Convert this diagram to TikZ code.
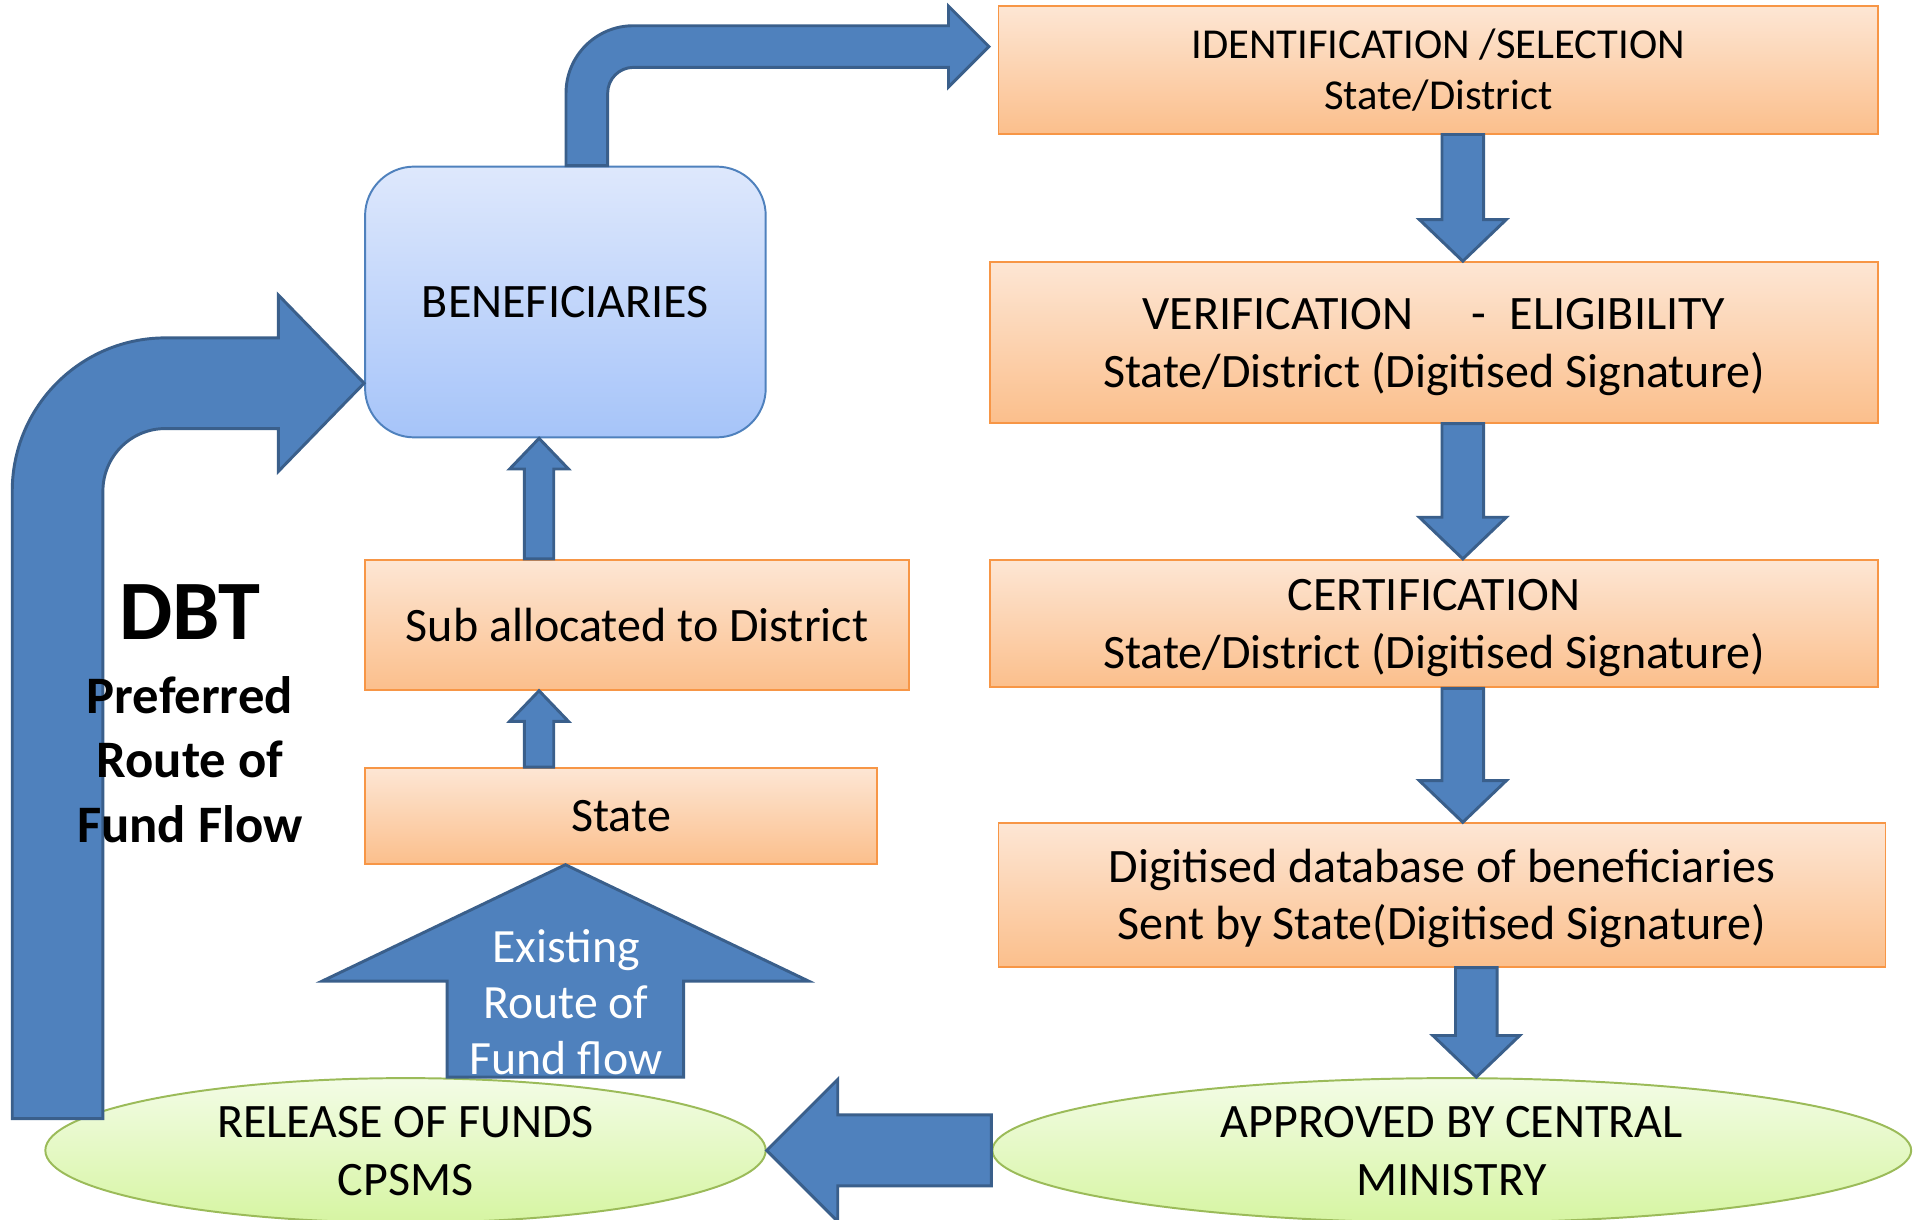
\documentclass[tikz,border=0pt]{standalone}
\usepackage{fontspec}
\setmainfont{Carlito}
\usetikzlibrary{calc,shapes.geometric}

\definecolor{arrowblue}{HTML}{4F81BD}
\definecolor{arrowedge}{HTML}{3A5F8B}
\definecolor{boxedge}{HTML}{F79646}
\definecolor{boxtop}{HTML}{FDE6D4}
\definecolor{boxbot}{HTML}{FBBF8C}
\definecolor{bentop}{HTML}{DEE8FC}
\definecolor{benbot}{HTML}{A6C4F9}
\definecolor{benedge}{HTML}{4F81BD}
\definecolor{ovaltop}{HTML}{F3FCE6}
\definecolor{ovalbot}{HTML}{D6F5A2}
\definecolor{ovaledge}{HTML}{9BBB59}

% struts so that two-line texts sit like the slide's text frames
\newcommand{\linetop}{\rule{0pt}{0.92em}}
\newcommand{\linebot}{\rule[-0.26em]{0pt}{0.26em}}

\begin{document}
\begin{tikzpicture}[x=0.5pt,y=-0.5pt,
  font=\fontsize{19.6}{23.5}\selectfont,
  stage/.style={rectangle,draw=boxedge,line width=0.8pt,top color=boxtop,bottom color=boxbot,align=center,inner sep=2pt},
  oval/.style={ellipse,draw=ovaledge,line width=0.8pt,top color=ovaltop,bottom color=ovalbot,align=center,inner xsep=0pt,inner ysep=-3pt},
  blockarrow/.style={fill=arrowblue,draw=arrowedge,line width=1.2pt,line join=miter}]
   \useasboundingbox (0,0) rectangle (1568,995);

   % boxes
   \node[stage,minimum width=359pt,minimum height=52pt,font=\fontsize{17.4}{21}\selectfont] (ident) at (1174,57) {\linetop IDENTIFICATION /SELECTION\\State/District\linebot};
   \node[stage,minimum width=362.5pt,minimum height=65.5pt] (verif) at (1170.5,279.5) {\linetop VERIFICATION\hspace{1.2em}-\hspace{0.5em}ELIGIBILITY\\State/District (Digitised Signature)\linebot};
   \node[stage,minimum width=362.5pt,minimum height=52pt] (cert) at (1170.5,509) {\linetop CERTIFICATION\\State/District (Digitised Signature)\linebot};
   \node[stage,minimum width=362pt,minimum height=58.5pt] (digi) at (1177,730.5) {\linetop Digitised database of beneficiaries\\Sent by State(Digitised Signature)\linebot};
   \node[stage,minimum width=222pt,minimum height=53pt] (sub) at (520,510) {Sub allocated to District};
   \node[stage,minimum width=209pt,minimum height=39pt] (state) at (507,666) {State};
   \node[draw=benedge,line width=0.8pt,top color=bentop,bottom color=benbot,rounded corners=20pt,
         minimum width=163.5pt,minimum height=110.5pt] (ben) at (461.5,246.5) {BENEFICIARIES};
   \node[oval,minimum width=294pt,minimum height=59pt] (release) at (331,939) {\linetop RELEASE OF FUNDS\\CPSMS\linebot};
   \node[oval,minimum width=375pt,minimum height=59pt] (approved) at (1185,939) {\linetop APPROVED BY CENTRAL\\MINISTRY\linebot};

   % straight block arrows down the right column
   \foreach \from/\to/\dx in {ident/verif/20, verif/cert/23.5, cert/digi/23.5, digi/approved/28}{
     \coordinate (s) at ($(\from.south)+(\dx,0)$);
     \coordinate (t) at (s |- \to.north);
     \draw[blockarrow] ($(s)+(-17,0)$) -- ($(t)+(-17,-34)$) -- ($(t)+(-35.5,-34)$) -- (t)
        -- ($(t)+(35.5,-34)$) -- ($(t)+(17,-34)$) -- ($(s)+(17,0)$) -- cycle;
   }

   % small arrows up to the beneficiaries
   \coordinate (stem) at (440,0);
   \foreach \from/\to in {state/sub, sub/ben}{
     \coordinate (s) at (stem |- \from.north);
     \coordinate (t) at (stem |- \to.south);
     \draw[blockarrow] ($(s)+(-12,0)$) -- ($(t)+(-12,25)$) -- ($(t)+(-24,25)$) -- (t)
        -- ($(t)+(24,25)$) -- ($(t)+(12,25)$) -- ($(s)+(12,0)$) -- cycle;
   }

   % existing route
   \coordinate (s) at (ben.south |- release.north);
   \coordinate (t) at (ben.south |- state.south);
   \draw[blockarrow] ($(s)+(-96.5,0)$) -- ($(t)+(-96.5,95)$) -- ($(t)+(-198.5,95)$) -- (t)
      -- ($(t)+(198.5,95)$) -- ($(t)+(96.5,95)$) -- ($(s)+(96.5,0)$) -- cycle;

   % approved -> release
   \coordinate (s) at (approved.west);
   \coordinate (t) at (release.east);
   \draw[blockarrow] ($(s)+(0,-29)$) -- ($(t)+(58,-29)$) -- ($(t)+(58,-58)$) -- (t)
      -- ($(t)+(58,58)$) -- ($(t)+(58,29)$) -- ($(s)+(0,29)$) -- cycle;

   % beneficiaries -> identification
   \coordinate (s) at ($(ben.north)+(17.5,0)$);
   \coordinate (t) at ($(ident.west)+(-7,-19)$);
   \coordinate (c) at (s |- t);
   \draw[blockarrow] ($(s)+(-17,0)$) -- ($(c)+(-17,38)$) arc[start angle=180,end angle=270,radius=55]
      -- ($(t)+(-33,-17)$) -- ($(t)+(-33,-33)$) -- (t) -- ($(t)+(-33,33)$) -- ($(t)+(-33,17)$)
      -- ($(c)+(38,17)$) arc[start angle=270,end angle=180,radius=21] -- ($(s)+(17,0)$) -- cycle;

   % DBT route: release -> beneficiaries
   \coordinate (dbtfoot) at (47,913);
   \coordinate (t) at ($(ben.south west)+(0,-45)$);
   \coordinate (c) at (dbtfoot |- t);
   \draw[blockarrow] ($(dbtfoot)+(-37,0)$) -- ($(c)+(-37,88)$) arc[start angle=180,end angle=270,radius=125]
      -- ($(t)+(-70,-37)$) -- ($(t)+(-70,-72)$) -- (t) -- ($(t)+(-70,72)$) -- ($(t)+(-70,37)$)
      -- ($(c)+(88,37)$) arc[start angle=270,end angle=180,radius=51] -- ($(dbtfoot)+(37,0)$) -- cycle;

   % labels
   \node[font=\fontsize{34.5}{40}\selectfont\bfseries] (dbt) at (155,500) {DBT};
   \node[font=\fontsize{21.5}{26.3}\selectfont\bfseries,align=center] (route) at (155,620) {Preferred\\Route of\\Fund Flow};
   \node[font=\fontsize{19.5}{23}\selectfont,text=white,align=center] (existing) at (462,818) {Existing\\Route of\\Fund flow};
\end{tikzpicture}
\end{document}
